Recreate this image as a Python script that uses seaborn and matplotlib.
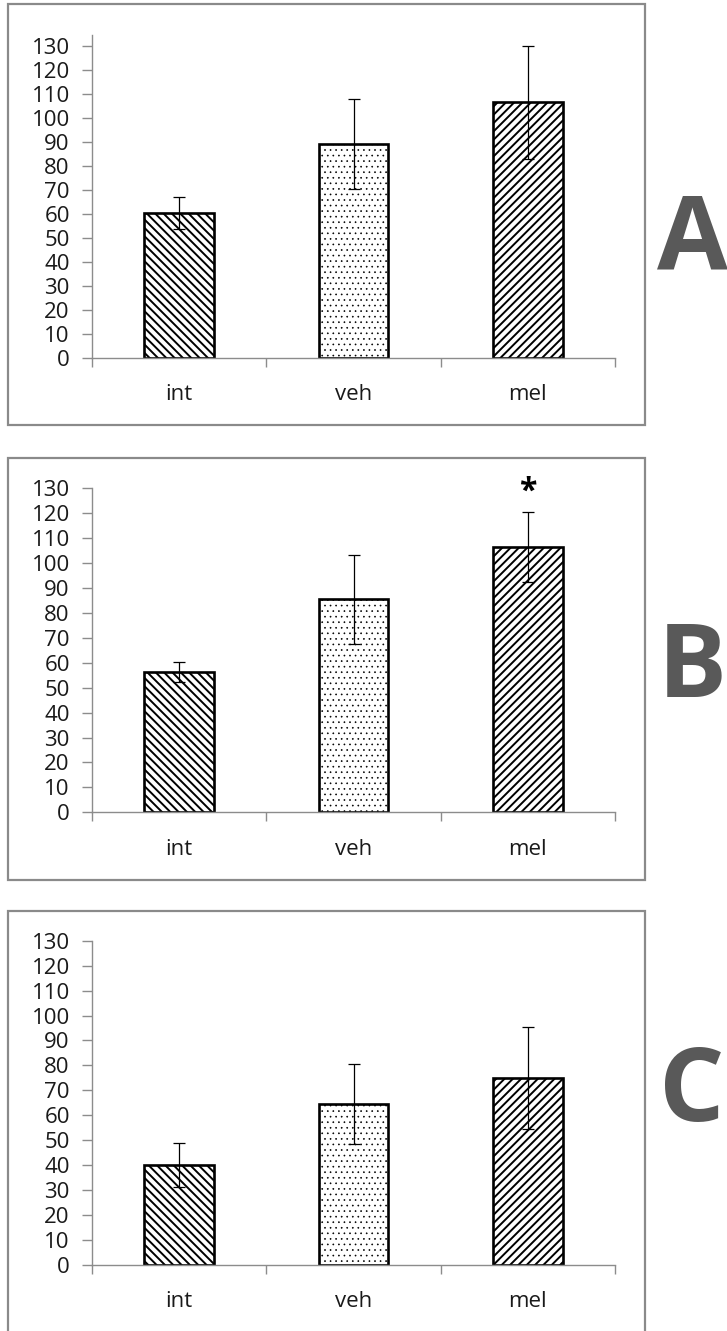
import numpy as np
import pandas as pd
import matplotlib
matplotlib.use("Agg")
import matplotlib.pyplot as plt
from matplotlib.patches import Rectangle
from matplotlib.ticker import FixedLocator
import seaborn as sns

# ---- data ----
categories = ["int", "veh", "mel"]
values_A = [60.3, 89.0, 106.5]
err_A = [6.6, 18.7, 23.5]
values_B = [56.3, 85.4, 106.5]
err_B = [4.2, 17.8, 14.0]
values_C = [40.1, 64.5, 75.0]
err_C = [8.7, 16.1, 20.6]
panel_letters = ["A", "B", "C"]
yticks = list(range(0, 131, 10))
star_panel = "B"
star_category = "mel"
star_value = 128.5

hatches = ["\\\\\\\\", "...", "////"]
hatch_widths = [1.4, 0.45, 1.4]

sns.set_theme(style="white")
plt.rcParams["font.family"] = ["Open Sans", "DejaVu Sans"]
plt.rcParams["hatch.color"] = "black"

W, H = 727, 1331
fig = plt.figure(figsize=(W / 100, H / 100), dpi=100)

panels = [
    dict(letter="A", vals=values_A, errs=err_A, zero=358.0, top=35.0, ytop=134.5,
         box=(8, 4, 645, 425), lety=242),
    dict(letter="B", vals=values_B, errs=err_B, zero=812.3, top=488.3, ytop=130.0,
         box=(8, 458, 645, 880), lety=670),
    dict(letter="C", vals=values_C, errs=err_C, zero=1265.0, top=940.7, ytop=130.0,
         box=(8, 911, 645, 1340), lety=1094),
]

axis_gray = "#8c8c8c"
for p in panels:
    x0, y0, x1, y1 = p["box"]
    fig.patches.append(Rectangle((x0 / W, 1 - y1 / H), (x1 - x0) / W, (y1 - y0) / H,
                                 transform=fig.transFigure, fill=False,
                                 edgecolor="#8a8a8a", linewidth=1.6, zorder=0))
    left = 92 / W
    width = 523 / W
    bottom = 1 - p["zero"] / H
    height = (p["zero"] - p["top"]) / H
    ax = fig.add_axes([left, bottom, width, height])
    df = pd.DataFrame({"cat": categories, "val": p["vals"]})
    sns.barplot(data=df, x="cat", y="val", order=categories, color="white",
                width=0.4, edgecolor="black", linewidth=1.9, errorbar=None, ax=ax,
                zorder=2)
    for patch, h, hw in zip(ax.patches, hatches, hatch_widths):
        patch.set_hatch(h)
        if hasattr(patch, "set_hatch_linewidth"):
            patch.set_hatch_linewidth(hw)
        else:
            patch._hatch_linewidth = hw
        patch.set_facecolor("white")
        patch.set_edgecolor("black")
    ax.errorbar(categories, p["vals"], yerr=p["errs"], fmt="none", ecolor="black",
                elinewidth=0.9, capsize=4.5, capthick=0.9, zorder=3)
    ax.set_xlim(-0.5, 2.5)
    ax.set_ylim(0, p["ytop"])
    ax.set_yticks(yticks)
    ax.set_yticklabels([str(t) for t in yticks])
    ax.set_xlabel("")
    ax.set_ylabel("")
    ax.xaxis.set_minor_locator(FixedLocator([-0.5, 0.5, 1.5, 2.5]))
    ax.tick_params(axis="x", which="major", length=0, pad=19, labelsize=16,
                   labelcolor="#1a1a1a")
    ax.tick_params(axis="x", which="minor", length=6.5, width=1.0, color=axis_gray,
                   direction="out", bottom=True)
    ax.tick_params(axis="y", which="major", length=7, width=1.0, color=axis_gray,
                   direction="out", left=True, pad=9, labelsize=16,
                   labelcolor="#1a1a1a")
    for s in ["top", "right"]:
        ax.spines[s].set_visible(False)
    for s in ["left", "bottom"]:
        ax.spines[s].set_color(axis_gray)
        ax.spines[s].set_linewidth(1.0)
    ax.set_facecolor("none")
    if p["letter"] == star_panel:
        ax.text(categories.index(star_category), star_value, "*", ha="center",
                va="center", fontsize=23, fontweight="bold", color="black")
    fig.text(692 / W, 1 - p["lety"] / H, p["letter"], ha="center", va="center",
             fontsize=74, fontweight="bold", color="#595959")

fig.savefig("out.png", dpi=100)
